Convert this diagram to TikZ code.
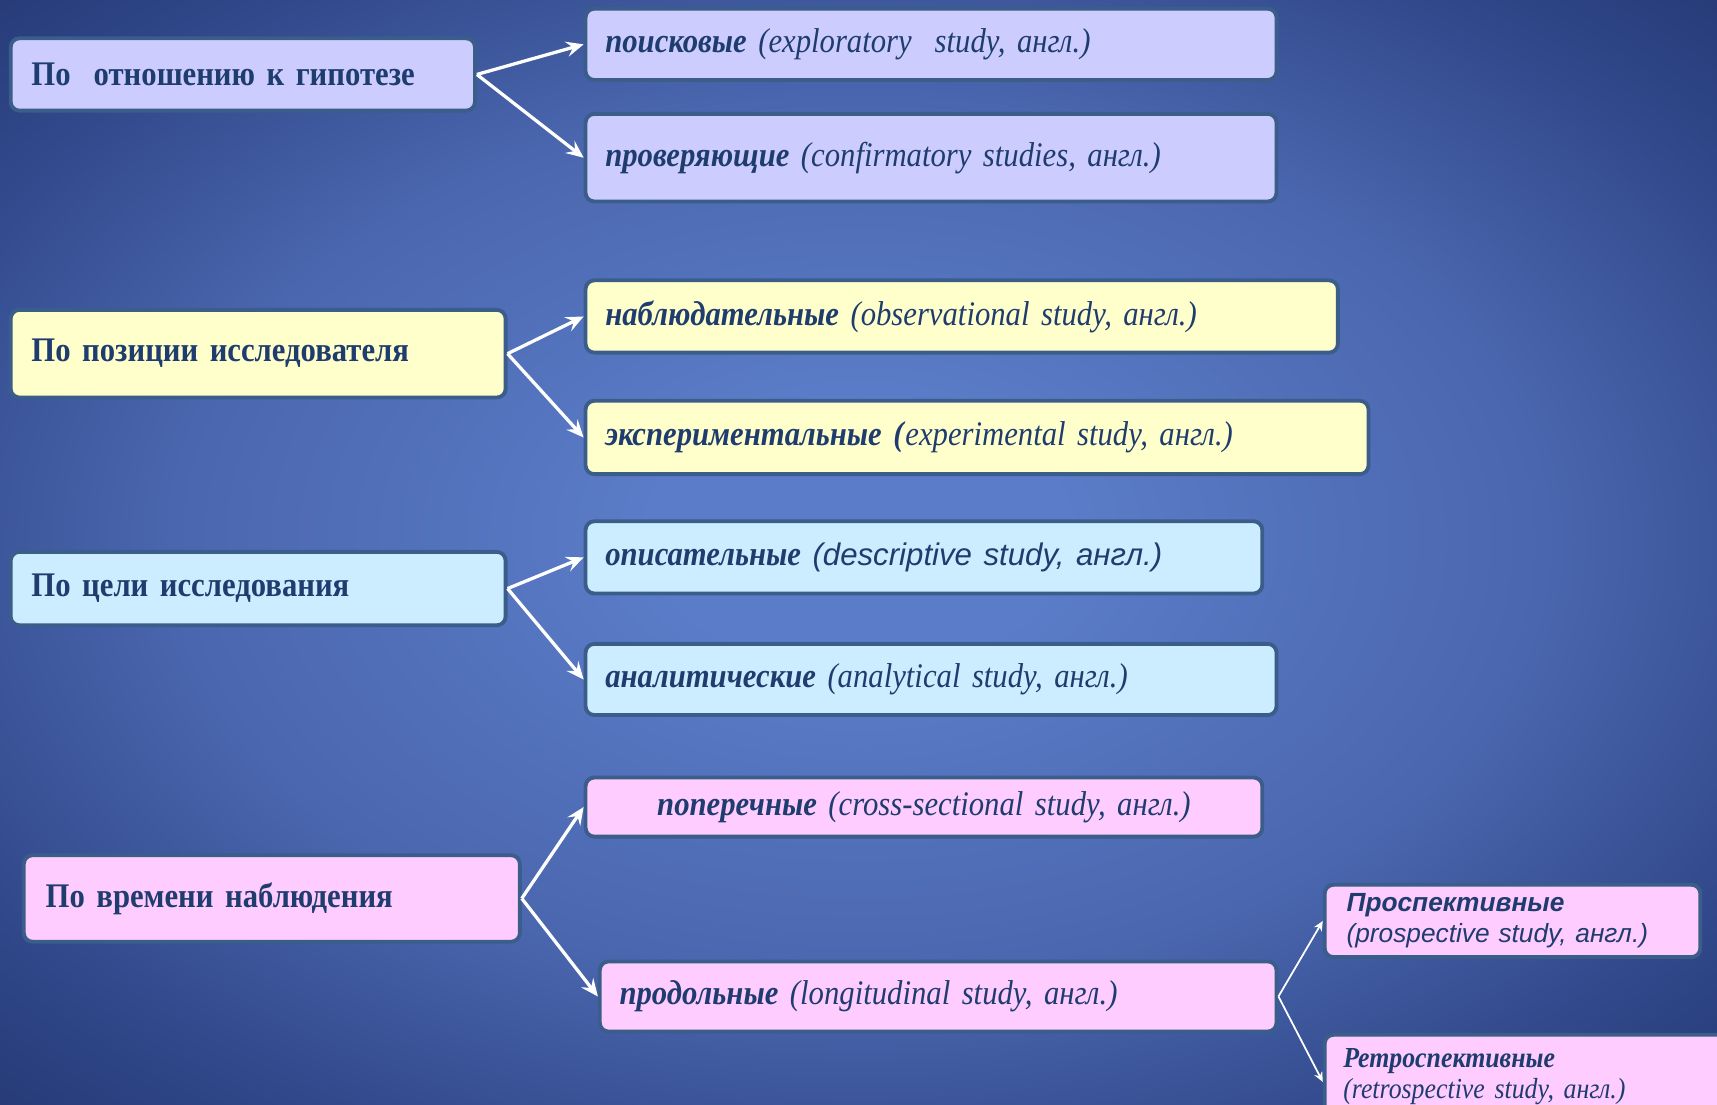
\documentclass[tikz,border=0pt]{standalone}
\usepackage{fontspec}
\setmainfont{Liberation Serif}[FakeStretch=0.89]
\newfontfamily\sansit{Liberation Sans}
\usetikzlibrary{arrows.meta}
\definecolor{bgin}{HTML}{5B7CC8}
\definecolor{bgmid}{HTML}{4A66AE}
\definecolor{bgedge}{HTML}{2E4586}
\definecolor{bgout}{HTML}{1A285E}
\definecolor{txt}{HTML}{1F3C6E}
\definecolor{edge}{HTML}{3A5D8A}
\definecolor{lav}{HTML}{CCCCFF}
\definecolor{yel}{HTML}{FFFFCC}
\definecolor{sky}{HTML}{CCECFF}
\definecolor{pnk}{HTML}{FFCCFF}
\pgfdeclareradialshading{bgshade}{\pgfpoint{0bp}{1bp}}{color(0bp)=(bgin); color(6bp)=(bgin); color(20bp)=(bgmid); color(31bp)=(bgedge); color(44bp)=(bgout)}
\tikzset{
  box/.style={draw=edge, line width=3.5pt, rounded corners=8pt, text=txt, anchor=west, align=left, inner ysep=0pt, font=\fontsize{31.5}{34}\selectfont},
  arr/.style={draw=white, line width=3pt, -{Stealth[length=16pt,width=14pt,inset=6pt]}},
  thinarr/.style={draw=white, line width=1.6pt, -{Stealth[length=9pt,width=8pt,inset=3pt]}}
}
\begin{document}
\begin{tikzpicture}[x=1pt,y=-1pt]
\useasboundingbox (0,0) rectangle (1568,1009);
\clip (0,0) rectangle (1568,1009);
\shade[shading=bgshade] (0,0) rectangle (1568,1009);

% group A
\node[box, fill=lav, minimum height=66pt, inner xsep=19pt, text width=386pt] (a) at (8,68) {\textbf{По\ \ отношению к гипотезе}};
\node[box, fill=lav, minimum height=65pt, inner xsep=18pt, text width=595pt] (a1) at (533,40.5) {\textbf{\textit{поисковые}} \textit{(exploratory\ \ study, англ.)}};
\node[box, fill=lav, minimum height=80pt, inner xsep=18pt, text width=595pt] (a2) at (533,144) {\textbf{\textit{проверяющие}} \textit{(confirmatory studies, англ.)}};

% group B
\node[box, fill=yel, minimum height=80pt, inner xsep=19pt, text width=414pt] (b) at (8,323) {\textbf{По позиции исследователя}};
\node[box, fill=yel, minimum height=66pt, inner xsep=18pt, text width=651pt] (b1) at (533,289) {\textbf{\textit{наблюдательные}} \textit{(observational study, англ.)}};
\node[box, fill=yel, minimum height=67pt, inner xsep=18pt, text width=679pt] (b2) at (533,399.5) {\textbf{\textit{экспериментальные (}}\textit{experimental study, англ.)}};

% group C
\node[box, fill=sky, minimum height=67pt, inner xsep=19pt, text width=414pt] (c) at (8,537.5) {\textbf{По цели исследования}};
\node[box, fill=sky, minimum height=66pt, inner xsep=18pt, text width=582pt] (c1) at (533,509) {\textbf{\textit{описательные}} {\sansit\itshape\fontsize{28.5}{32}\selectfont (descriptive study, англ.)}};
\node[box, fill=sky, minimum height=65pt, inner xsep=18pt, text width=595pt] (c2) at (533,620.5) {\textbf{\textit{аналитические}} \textit{(analytical study, англ.)}};

% group D
\node[box, fill=pnk, minimum height=79pt, inner xsep=20pt, text width=413pt] (d) at (20,820.5) {\textbf{По времени наблюдения}};
\node[box, fill=pnk, minimum height=54pt, inner xsep=18pt, text width=582pt, align=center] (d1) at (533,737) {\textbf{\textit{поперечные}} \textit{(cross-sectional study, англ.)}};
\node[box, fill=pnk, minimum height=64pt, inner xsep=18pt, text width=582pt] (d2) at (546,910) {\textbf{\textit{продольные}} \textit{(longitudinal study, англ.)}};
\node[box, fill=pnk, minimum height=66pt, inner xsep=20pt, text width=303pt, font=\sansit\fontsize{24}{28}\selectfont] (d2a) at (1208,841) {\textbf{\textit{Проспективные}}\\\textit{(prospective study, англ.)}};
\node[box, fill=pnk, minimum height=76pt, inner xsep=17pt, text width=346pt, font=\fontsize{26.5}{28}\selectfont] (d2b) at (1208,983) {\textbf{\textit{Ретроспективные}}\\\textit{(retrospective study, англ.)}};
\coordinate (d2bin) at ([yshift=-5pt]d2b.west);

% connectors
\draw[arr] (a.east) -- (a1.west);
\draw[arr] (a.east) -- (a2.west);
\draw[arr] (b.east) -- (b1.west);
\draw[arr] (b.east) -- (b2.west);
\draw[arr] (c.east) -- (c1.west);
\draw[arr] (c.east) -- (c2.west);
\draw[arr] (d.east) -- (d1.west);
\draw[arr] (d.east) -- (d2.west);
\draw[thinarr] (d2.east) -- (d2a.west);
\draw[thinarr] (d2.east) -- (d2bin);
\end{tikzpicture}
\end{document}
